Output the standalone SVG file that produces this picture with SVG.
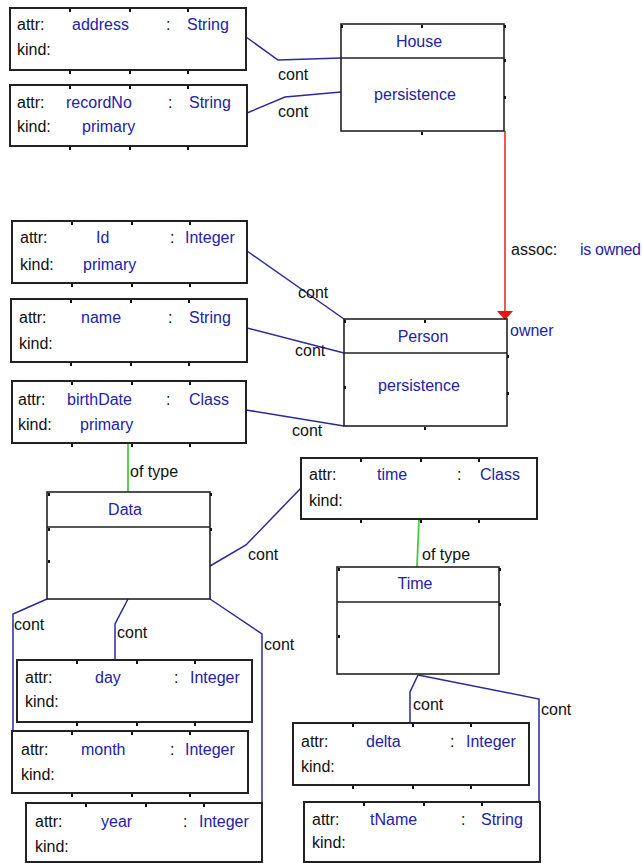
<svg xmlns="http://www.w3.org/2000/svg" width="642" height="863" viewBox="0 0 642 863">
<style>
text{font-family:"Liberation Sans",Arial,sans-serif;font-size:16px}
.k{fill:#111}
.b{fill:#2222aa}
.box{fill:#fff;stroke:#222;stroke-width:2}
.cls{fill:#fff;stroke:#222;stroke-width:1.6}
.div{stroke:#222;stroke-width:1.6}
.c{fill:none;stroke:#2a2a9a;stroke-width:1.5}
.g{fill:none;stroke:#44cc44;stroke-width:1.8}
.mid{text-anchor:middle}
.t{fill:#111}
</style>
<defs>
<rect id="tk" x="-1" y="0" width="2" height="3"/>
<g id="ticks">
<use href="#tk" x="60" y="1"/><use href="#tk" x="120" y="1"/><use href="#tk" x="178" y="1"/>
</g>
</defs>
<rect width="642" height="863" fill="#fff"/>
<g id="connectors">
<polyline class="c" points="246,37 278,60 341,58"/>
<polyline class="c" points="247,113 285,97 341,92"/>
<line x1="247" y1="251" x2="344" y2="319" class="c"/>
<line x1="247" y1="328" x2="344" y2="353" class="c"/>
<line x1="246" y1="410" x2="344" y2="426" class="c"/>
<line x1="128" y1="443" x2="128" y2="492" class="g"/>
<polyline class="c" points="210,566 246,545 301,488"/>
<line x1="419" y1="519" x2="417" y2="567" class="g"/>
<polyline class="c" points="47,599 13,614 13,731"/>
<polyline class="c" points="128,599 115,624 115,660"/>
<polyline class="c" points="210,599 262,634 262,803"/>
<polyline class="c" points="418,675 410,692 410,723"/>
<polyline class="c" points="418,675 539,699 539,802"/>
<line x1="505" y1="131" x2="505" y2="312" stroke="#e02020" stroke-width="1.5"/>
<polygon points="497,311 513,311 505,320" fill="#ee1111"/>
<text class="k" x="278" y="80">cont</text>
<text class="k" x="278" y="117">cont</text>
<text class="k" x="298" y="298">cont</text>
<text class="k" x="295" y="356">cont</text>
<text class="k" x="292" y="436">cont</text>
<text class="k" x="130" y="477">of type</text>
<text class="k" x="248" y="560">cont</text>
<text class="k" x="422" y="560">of type</text>
<text class="k" x="14" y="630">cont</text>
<text class="k" x="117" y="638">cont</text>
<text class="k" x="264" y="650">cont</text>
<text class="k" x="413" y="710">cont</text>
<text class="k" x="541" y="715">cont</text>
<text class="k" x="511" y="255">assoc:</text>
<text class="b" x="580" y="255" textLength="61">is owned</text>
<text class="b" x="510" y="336">owner</text>
</g>
<g id="House">
<rect class="cls" x="341" y="24" width="163" height="107"/>
<line class="div" x1="341" y1="58" x2="504" y2="58"/>
<g class="t"><use href="#tk" x="342" y="25"/><use href="#tk" x="422" y="25"/><use href="#tk" x="505" y="25"/><use href="#tk" x="505" y="59"/><use href="#tk" x="505" y="96"/><use href="#tk" x="422" y="132"/></g>
<text class="b mid" x="419" y="47">House</text>
<text class="b mid" x="415" y="100">persistence</text>
</g>
<g id="Person">
<rect class="cls" x="344" y="319" width="163" height="107"/>
<line class="div" x1="344" y1="353" x2="507" y2="353"/>
<g class="t"><use href="#tk" x="345" y="320"/><use href="#tk" x="425" y="320"/><use href="#tk" x="508" y="355"/><use href="#tk" x="508" y="392"/><use href="#tk" x="345" y="386"/><use href="#tk" x="425" y="427"/></g>
<text class="b mid" x="423" y="342">Person</text>
<text class="b mid" x="419" y="391">persistence</text>
</g>
<g id="Data">
<rect class="cls" x="47" y="492" width="163" height="107"/>
<line class="div" x1="47" y1="527" x2="210" y2="527"/>
<g class="t"><use href="#tk" x="49" y="493"/><use href="#tk" x="211" y="493"/><use href="#tk" x="49" y="528"/><use href="#tk" x="211" y="528"/><use href="#tk" x="49" y="560"/></g>
<text class="b mid" x="125" y="515">Data</text>
</g>
<g id="Time">
<rect class="cls" x="337" y="567" width="162" height="107"/>
<line class="div" x1="337" y1="602" x2="499" y2="602"/>
<g class="t"><use href="#tk" x="339" y="568"/><use href="#tk" x="500" y="568"/><use href="#tk" x="500" y="603"/><use href="#tk" x="339" y="635"/></g>
<text class="b mid" x="415" y="589">Time</text>
</g>
<g id="attr-address">
<rect class="box" x="10" y="8" width="236" height="62"/>
<use class="t" href="#ticks" x="10" y="8"/><use class="t" href="#ticks" x="10" y="70"/>
<text class="k" x="17" y="30">attr:</text><text class="b" x="72" y="30">address</text><text class="k" x="166" y="30">:</text><text class="b" x="187" y="30">String</text>
<text class="k" x="17" y="55">kind:</text>
</g>
<g id="attr-recordNo">
<rect class="box" x="10" y="85" width="237" height="61"/>
<use class="t" href="#ticks" x="10" y="85"/><use class="t" href="#ticks" x="10" y="146"/>
<text class="k" x="17" y="108">attr:</text><text class="b" x="66" y="108">recordNo</text><text class="k" x="168" y="108">:</text><text class="b" x="189" y="108">String</text>
<text class="k" x="17" y="132">kind:</text><text class="b" x="82" y="132">primary</text>
</g>
<g id="attr-Id">
<rect class="box" x="12" y="221" width="235" height="62"/>
<use class="t" href="#ticks" x="12" y="221"/><use class="t" href="#ticks" x="12" y="283"/>
<text class="k" x="20" y="243">attr:</text><text class="b" x="96" y="243">Id</text><text class="k" x="170" y="243">:</text><text class="b" x="185" y="243">Integer</text>
<text class="k" x="20" y="270">kind:</text><text class="b" x="83" y="270">primary</text>
</g>
<g id="attr-name">
<rect class="box" x="11" y="299" width="236" height="63"/>
<use class="t" href="#ticks" x="11" y="299"/><use class="t" href="#ticks" x="11" y="362"/>
<text class="k" x="19" y="323">attr:</text><text class="b" x="81" y="323">name</text><text class="k" x="168" y="323">:</text><text class="b" x="189" y="323">String</text>
<text class="k" x="19" y="349">kind:</text>
</g>
<g id="attr-birthDate">
<rect class="box" x="12" y="381" width="234" height="62"/>
<use class="t" href="#ticks" x="12" y="381"/><use class="t" href="#ticks" x="12" y="443"/>
<text class="k" x="18" y="405">attr:</text><text class="b" x="67" y="405">birthDate</text><text class="k" x="166" y="405">:</text><text class="b" x="189" y="405">Class</text>
<text class="k" x="18" y="430">kind:</text><text class="b" x="80" y="430">primary</text>
</g>
<g id="attr-time">
<rect class="box" x="301" y="458" width="236" height="61"/>
<use class="t" href="#ticks" x="301" y="458"/><use class="t" href="#ticks" x="301" y="519"/>
<text class="k" x="309" y="480">attr:</text><text class="b" x="377" y="480">time</text><text class="k" x="457" y="480">:</text><text class="b" x="480" y="480">Class</text>
<text class="k" x="309" y="506">kind:</text>
</g>
<g id="attr-day">
<rect class="box" x="17" y="660" width="235" height="62"/>
<use class="t" href="#ticks" x="17" y="660"/><use class="t" href="#ticks" x="17" y="722"/>
<text class="k" x="25" y="683">attr:</text><text class="b" x="95" y="683">day</text><text class="k" x="174" y="683">:</text><text class="b" x="190" y="683">Integer</text>
<text class="k" x="25" y="707">kind:</text>
</g>
<g id="attr-month">
<rect class="box" x="12" y="731" width="236" height="62"/>
<use class="t" href="#ticks" x="12" y="731"/><use class="t" href="#ticks" x="12" y="793"/>
<text class="k" x="21" y="755">attr:</text><text class="b" x="81" y="755">month</text><text class="k" x="170" y="755">:</text><text class="b" x="185" y="755">Integer</text>
<text class="k" x="21" y="780">kind:</text>
</g>
<g id="attr-year">
<rect class="box" x="26" y="803" width="236" height="59"/>
<use class="t" href="#ticks" x="26" y="803"/>
<text class="k" x="35" y="827">attr:</text><text class="b" x="101" y="827">year</text><text class="k" x="183" y="827">:</text><text class="b" x="199" y="827">Integer</text>
<text class="k" x="35" y="852">kind:</text>
</g>
<g id="attr-delta">
<rect class="box" x="293" y="723" width="236" height="62"/>
<use class="t" href="#ticks" x="293" y="723"/><use class="t" href="#ticks" x="293" y="785"/>
<text class="k" x="301" y="747">attr:</text><text class="b" x="366" y="747">delta</text><text class="k" x="450" y="747">:</text><text class="b" x="466" y="747">Integer</text>
<text class="k" x="301" y="772">kind:</text>
</g>
<g id="attr-tName">
<rect class="box" x="304" y="802" width="236" height="60"/>
<use class="t" href="#ticks" x="304" y="802"/>
<text class="k" x="312" y="825">attr:</text><text class="b" x="370" y="825">tName</text><text class="k" x="461" y="825">:</text><text class="b" x="481" y="825">String</text>
<text class="k" x="312" y="848">kind:</text>
</g>
</svg>
